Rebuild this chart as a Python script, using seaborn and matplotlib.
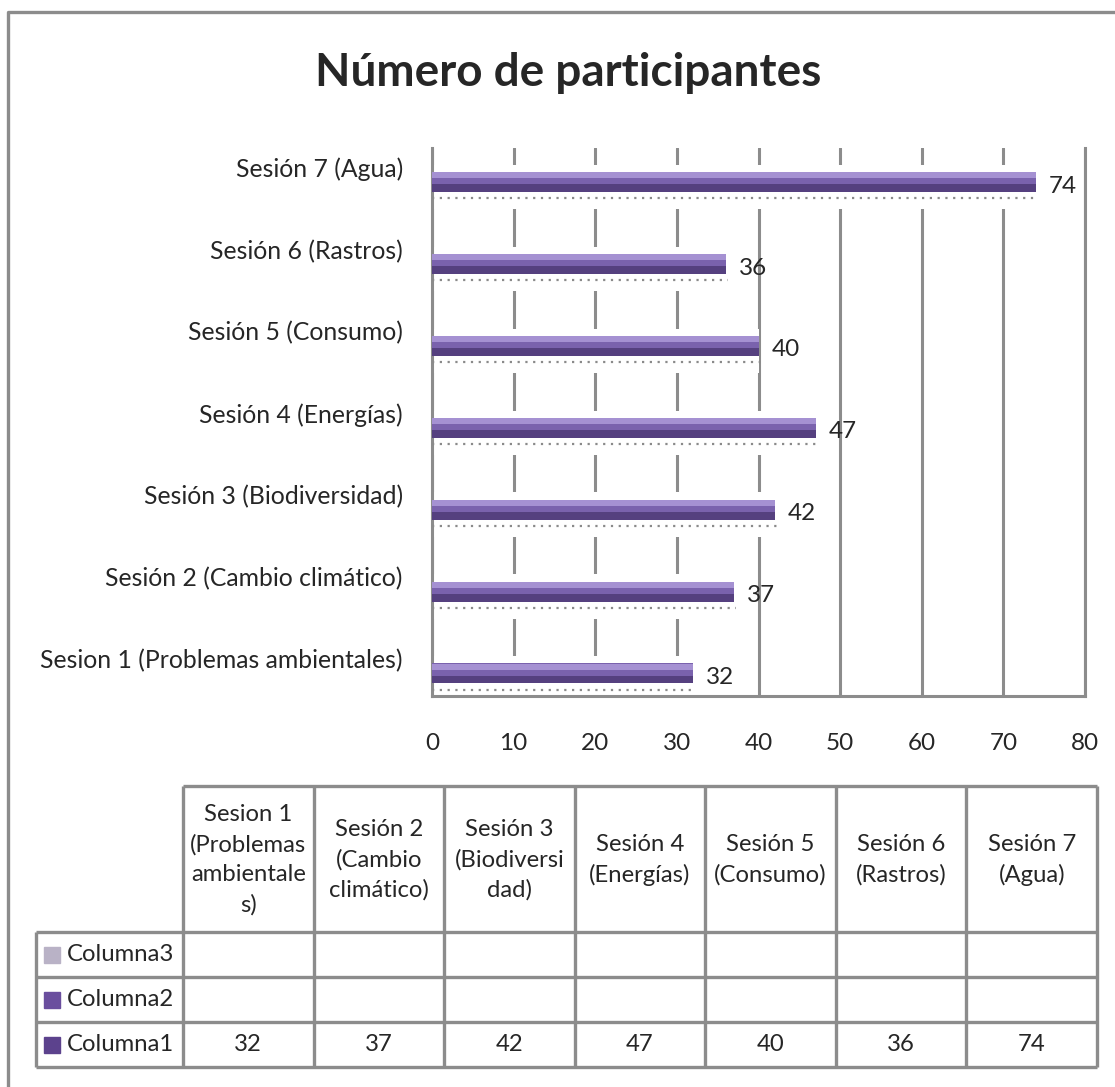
import numpy as np
import pandas as pd
import seaborn as sns
import matplotlib.pyplot as plt
from matplotlib.patches import Rectangle

# ===============================
# datos
# ===============================
sesiones = [
    'Sesion 1 (Problemas ambientales)',
    'Sesión 2 (Cambio climático)',
    'Sesión 3 (Biodiversidad)',
    'Sesión 4 (Energías)',
    'Sesión 5 (Consumo)',
    'Sesión 6 (Rastros)',
    'Sesión 7 (Agua)',
]
participantes = [32, 37, 42, 47, 40, 36, 74]
encabezados = [
    'Sesion 1\n(Problemas\nambientale\ns)',
    'Sesión 2\n(Cambio\nclimático)',
    'Sesión 3\n(Biodiversi\ndad)',
    'Sesión 4\n(Energías)',
    'Sesión 5\n(Consumo)',
    'Sesión 6\n(Rastros)',
    'Sesión 7\n(Agua)',
]
series = ['Columna3', 'Columna2', 'Columna1']
x_ticks = [0, 10, 20, 30, 40, 50, 60, 70, 80]

sns.set_style('white')
plt.rcParams['font.family'] = ['Lato', 'DejaVu Sans']

W, H = 1115, 1087
GRIS = '#8c8c8c'
MORADO = '#55407f'
MORADO_MEDIO = '#7a62ad'
MORADO_CLARO = '#a591d2'

fig = plt.figure(figsize=(W / 100, H / 100), dpi=100)

# fondo: marco y tabla en pixeles
fondo = fig.add_axes([0, 0, 1, 1])
fondo.set_xlim(0, W)
fondo.set_ylim(H, 0)
fondo.axis('off')
fondo.plot([8, 8, W], [H, 12, 12], color=GRIS, lw=2.4, solid_capstyle='butt')

# ===============================
# grafico de barras
# ===============================
ax = fig.add_axes([432 / W, (H - 696) / H, (1085 - 432) / W, (696 - 148) / H])
df = pd.DataFrame({'sesion': sesiones, 'n': participantes})
orden = sesiones[::-1]
valores = [participantes[sesiones.index(s)] for s in orden]
pos = np.arange(len(orden))

sns.barplot(data=df, x='n', y='sesion', order=orden, color=MORADO,
            saturation=1, width=0.244, errorbar=None, linewidth=0,
            edgecolor='none', ax=ax, zorder=3)

# franja blanca que tapa la cuadricula detras de cada barra
ax.barh(pos + 0.06, valores, height=0.54, color='white', lw=0, zorder=1)
# degradado de la barra (efecto 3D)
ax.barh(pos - 0.122 + 0.075, valores, height=0.15, color=MORADO_MEDIO, lw=0, zorder=4)
ax.barh(pos - 0.122 + 0.04, valores, height=0.07, color=MORADO_CLARO, lw=0, zorder=4)
# linea punteada de la serie vacia
ax.hlines(pos + 0.2, 0, np.array(valores) + 0.3, colors='#8a8a8a',
          linestyles=(0, (1, 2.5)), lw=1.6, zorder=3)

for i, v in enumerate(valores):
    ax.text(v + 1.6, i + 0.05, str(v), va='center', ha='left', fontsize=17.5, zorder=5)

ax.set_xlim(0, 80)
ax.set_ylim(len(orden) - 1 + 0.275, -0.415)
ax.set_xticks(x_ticks)
ax.set_xticklabels([str(t) for t in x_ticks], fontsize=17.5)
ax.set_yticks(pos - 0.18)
ax.set_yticklabels(orden, fontsize=17.8)
ax.tick_params(axis='x', length=0, pad=27)
ax.tick_params(axis='y', length=0, pad=21)
ax.set_xlabel('')
ax.set_ylabel('')
ax.set_axisbelow(True)
ax.xaxis.grid(True, color=GRIS, lw=2.2)
ax.yaxis.grid(False)
for lado in ['left', 'bottom', 'right']:
    ax.spines[lado].set_color(GRIS)
    ax.spines[lado].set_linewidth(2.2)
ax.spines['top'].set_visible(False)

fig.text(568 / W, 1 - 86 / H, 'Número de participantes', ha='center', va='baseline',
         fontsize=33, fontweight='bold')

# ===============================
# tabla de datos
# ===============================
x0, x1 = 183, 1097
etiqueta_x = 36
cols = np.linspace(x0, x1, len(encabezados) + 1)
y_top, y_head = 786, 932
filas = [932, 977, 1022, 1067]

kw = dict(color=GRIS, lw=2.4)
fondo.hlines(y_top, x0, x1, **kw)
fondo.hlines(filas, etiqueta_x, x1, **kw)
fondo.vlines(cols, y_top, filas[-1], **kw)
fondo.vlines(etiqueta_x, filas[0], filas[-1], **kw)

for j, txt in enumerate(encabezados):
    fondo.text((cols[j] + cols[j + 1]) / 2, (y_top + y_head) / 2 + 1, txt,
               ha='center', va='center', fontsize=17.2, linespacing=1.5)

colores_serie = {'Columna3': '#b9b2c6', 'Columna2': '#6a4e9e', 'Columna1': '#5c428d'}
for k, nombre in enumerate(series):
    yc = (filas[k] + filas[k + 1]) / 2
    fondo.add_patch(Rectangle((44, yc - 8), 16, 16, color=colores_serie[nombre]))
    fondo.text(67, yc, nombre, ha='left', va='center', fontsize=17.2)

for j, s in enumerate(sesiones):
    yc = (filas[2] + filas[3]) / 2
    fondo.text((cols[j] + cols[j + 1]) / 2, yc, str(participantes[j]),
               ha='center', va='center', fontsize=17.2)

fig.savefig('out.png', dpi=100)
